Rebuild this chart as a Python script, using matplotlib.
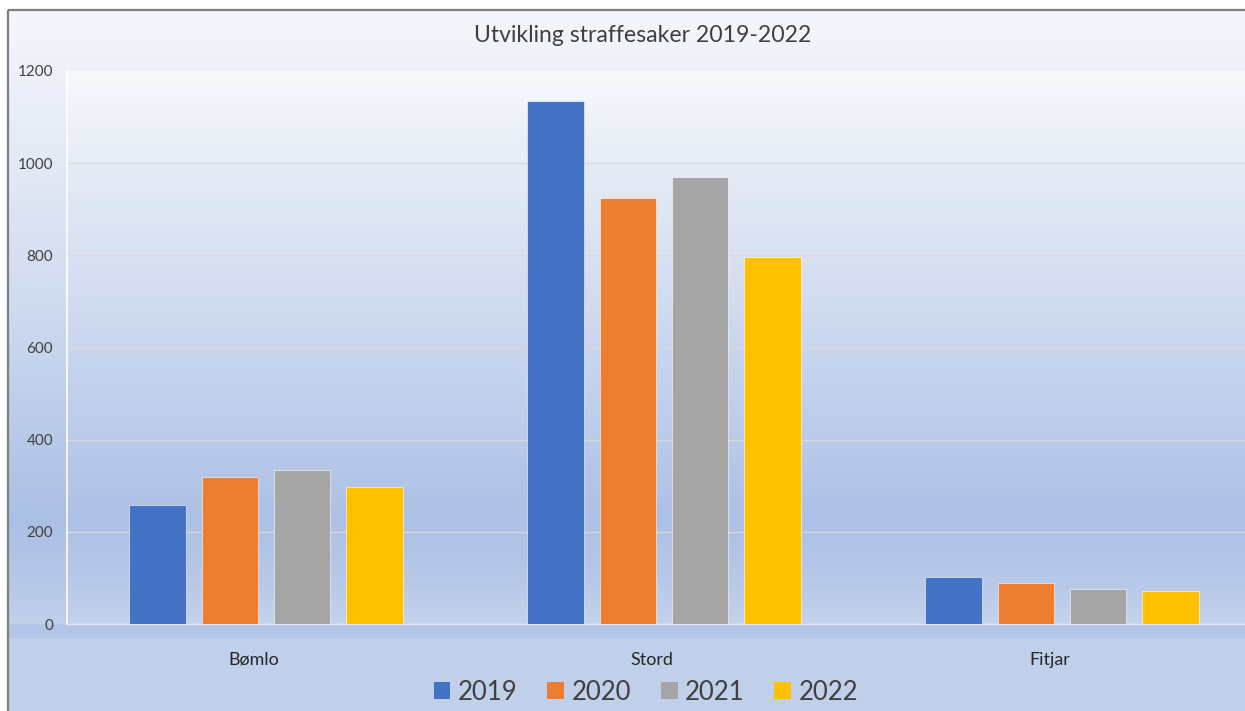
import matplotlib
matplotlib.use("Agg")
import matplotlib.pyplot as plt
import numpy as np
from matplotlib.colors import to_rgb
from matplotlib.patches import Rectangle, Patch
from matplotlib.transforms import ScaledTranslation

# ---- data ----
categories = ["Bømlo", "Stord", "Fitjar"]
years = ["2019", "2020", "2021", "2022"]
values_2019 = [258, 1135, 101]
values_2020 = [320, 925, 90]
values_2021 = [334, 971, 76]
values_2022 = [297, 797, 72]
series = [values_2019, values_2020, values_2021, values_2022]
colors = ["#4472c4", "#ed7d31", "#a5a5a5", "#ffc000"]
title = "Utvikling straffesaker 2019-2022"
yticks = [0, 200, 400, 600, 800, 1000, 1200]

plt.rcParams['font.family'] = ['Lato', 'DejaVu Sans']

W, H = 1245, 711
fig = plt.figure(figsize=(W / 100, H / 100), dpi=100)
fig.patch.set_facecolor("white")

# ---- background in pixel coordinates ----
bg = fig.add_axes([0, 0, 1, 1], zorder=-10)
bg.axis("off")

def vgrad(ax, x0, x1, y0, y1, stops):
    ys = np.linspace(y0, y1, 400)
    pos = [s[0] for s in stops]
    cols = np.array([to_rgb(s[1]) for s in stops])
    img = np.zeros((400, 1, 3))
    for c in range(3):
        img[:, 0, c] = np.interp(ys, pos, cols[:, c])
    ax.imshow(img, extent=[x0, x1, y1, y0], aspect="auto", interpolation="bilinear", zorder=0)

outer_stops = [(10, "#f4f6fb"), (71, "#eef1f8"), (165, "#e3e9f5"), (300, "#d0dbef"),
               (450, "#b6c8e8"), (520, "#abbfe5"), (580, "#b5c7e8"), (624, "#c1d0eb")]
vgrad(bg, 9, W, 10, 624, outer_stops)
inner_stops = [(71, "#f7f9fc"), (165, "#e6ecf6"), (300, "#d2dcf0"),
               (450, "#b8c9e9"), (520, "#adc0e5"), (580, "#b7c8e8"), (624, "#c3d2ec")]
vgrad(bg, 67, W, 71, 624, inner_stops)
bg.add_patch(Rectangle((9, 624), W - 9, 14, facecolor="#b4c6e7", edgecolor="none", zorder=1))
bg.add_patch(Rectangle((9, 638), W - 9, H - 638, facecolor="#c0d0ea", edgecolor="none", zorder=1))
bg.plot([8, W], [10, 10], color="#7f7f7f", lw=1.6, zorder=5, solid_capstyle="butt")
bg.plot([8, 8], [10, H], color="#7f7f7f", lw=1.6, zorder=5, solid_capstyle="butt")
bg.set_xlim(0, W)
bg.set_ylim(H, 0)

# ---- main axes (plot area extends slightly past the right edge) ----
left, right, top, bottom = 67, 1261, 71, 624
ax = fig.add_axes([left / W, 1 - bottom / H, (right - left) / W, (bottom - top) / H])
ax.patch.set_alpha(0)

x = np.arange(len(categories))
bw = 0.143
step = 0.181
for i, (vals, col) in enumerate(zip(series, colors)):
    ax.bar(x + (i - 1.5) * step, vals, width=bw, color=col, zorder=3,
           edgecolor="#ffffff", linewidth=0.4, label=years[i])

ax.set_xlim(-0.5, len(categories) - 0.5)
ax.set_ylim(0, 1200)
ax.set_yticks(yticks)
ax.set_yticklabels([str(v) for v in yticks])
ax.set_xticks(x)
ax.set_xticklabels(categories)
ax.grid(axis="y", color="#d9d9d9", lw=1, zorder=1)
ax.get_ygridlines()[-1].set_visible(False)
ax.tick_params(axis="y", length=0, pad=10, labelsize=11, labelcolor="#404040")
ax.tick_params(axis="x", length=0, pad=20, labelsize=12.9, labelcolor="#262626")
shift = ScaledTranslation(-12 / 100, 0, fig.dpi_scale_trans)
for lab in ax.get_xticklabels():
    lab.set_transform(lab.get_transform() + shift)
for s in ["top", "right"]:
    ax.spines[s].set_visible(False)
ax.spines["left"].set_color("#ffffff")
ax.spines["left"].set_linewidth(1.2)
ax.spines["bottom"].set_color("#e2e8f4")
ax.spines["bottom"].set_linewidth(1.0)

fig.text(643 / W, 1 - 35 / H, title, ha="center", va="center", fontsize=16.6, color="#404040")

handles = [Patch(facecolor=c, edgecolor="none", label=y) for c, y in zip(colors, years)]
fig.legend(handles=handles, loc="center", bbox_to_anchor=(646 / W, 1 - 692 / H), ncol=4,
           frameon=False, fontsize=18.5, labelcolor="#404040",
           handlelength=0.65, handleheight=0.6, handletextpad=0.3, columnspacing=1.15,
           borderpad=0.1)

fig.savefig("out.png", dpi=100)
